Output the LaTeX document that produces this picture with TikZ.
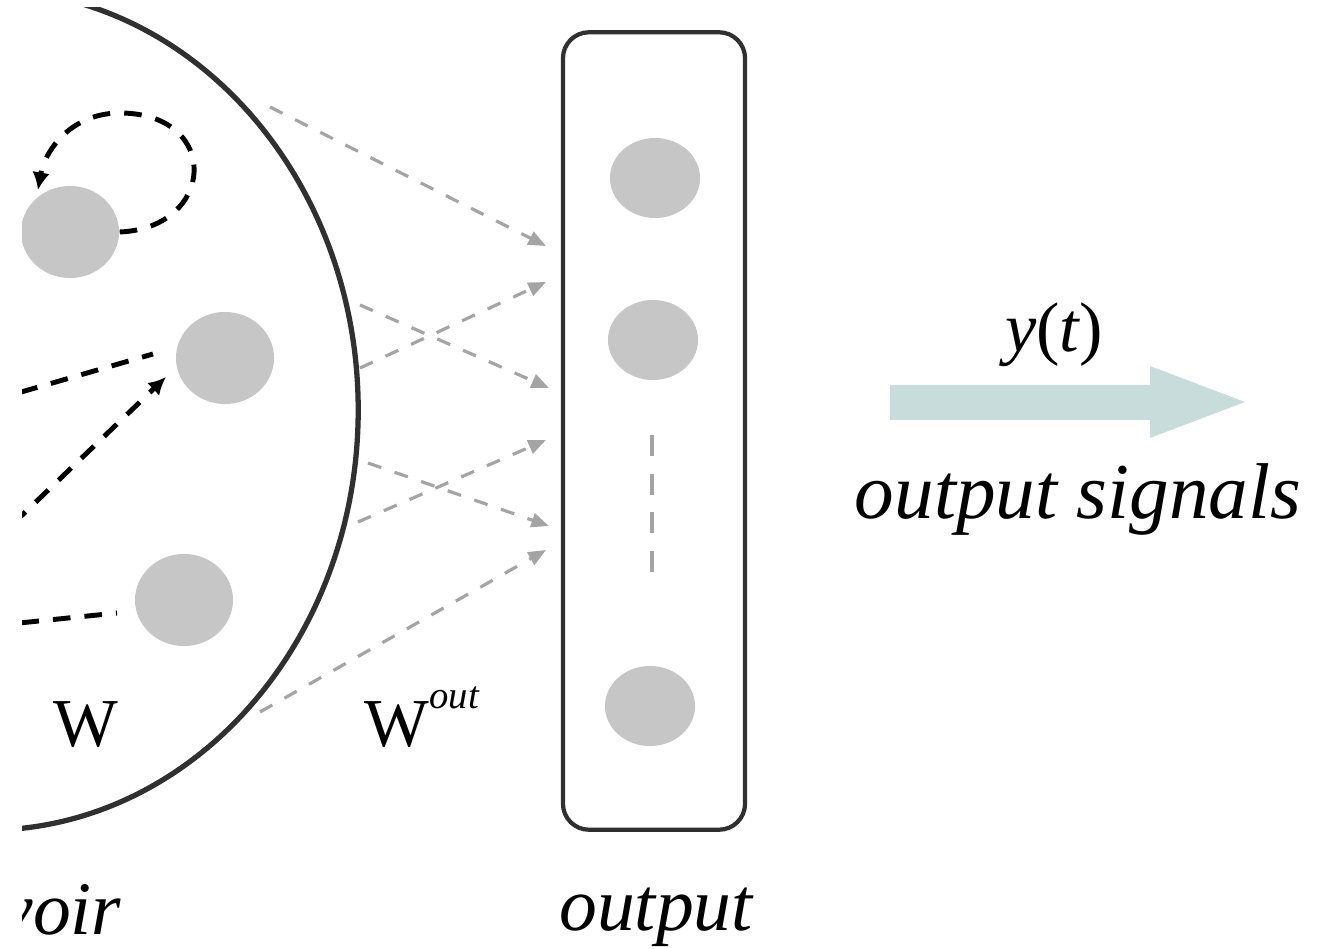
\documentclass[tikz,border=0pt]{standalone}
\usepackage{fontspec}
\setmainfont{Liberation Serif}
\usetikzlibrary{shapes.geometric,arrows.meta}
\definecolor{neurongray}{HTML}{C6C6C6}
\definecolor{linkgray}{HTML}{A4A4A4}
\definecolor{outarrow}{HTML}{C8DCDC}
\definecolor{rim}{HTML}{303030}
\tikzset{
  neuron/.style={ellipse, fill=neurongray, draw=none, inner sep=0pt, minimum width=0.98cm, minimum height=0.92cm},
  outneuron/.style={ellipse, fill=neurongray, draw=none, inner sep=0pt, minimum width=0.90cm, minimum height=0.80cm},
  resline/.style={draw=black, line width=1.4pt, dash pattern=on 5pt off 4pt},
  reslink/.style={resline, -{Latex[length=5pt,width=5pt]}},
  outlink/.style={draw=linkgray, line width=0.9pt, dash pattern=on 4pt off 4pt, -{Triangle[length=5pt,width=4pt]}},
  lbl/.style={inner sep=0pt, anchor=base}
}
\begin{document}
\begin{tikzpicture}[x=0.01cm,y=-0.01cm]
\useasboundingbox (0,0) rectangle (1330,949);
\begin{scope}
\clip (22,8) rectangle (1330,949);
% reservoir boundary
\draw[rim, line width=1.5pt] (-14,410) ellipse [x radius=3.72cm, y radius=4.2cm];
% reservoir neurons
\node[neuron] (r1) at (70,232) {};
\node[neuron] (r2) at (225,358) {};
\node[neuron] (r3) at (184,600) {};
% input connections (coming from outside)
\coordinate (i1) at (-10,401);
\coordinate (i1e) at (153,354);
\coordinate (i2) at (-10,546);
\coordinate (i2e) at (166,377);
\coordinate (i3) at (-10,626);
\coordinate (i3e) at (117,613);
\draw[resline] (i1) -- (i1e);
\draw[reslink] (i2) -- (i2e);
\draw[resline] (i3) -- (i3e);
% self loop
\draw[reslink] (r1.east) .. controls (215,228) and (222,115) .. (122,113)
   .. controls (72,112) and (45,150) .. (38,190);
% output box
\node[draw=rim, line width=1.2pt, rounded corners=0.26cm, minimum width=1.82cm, minimum height=7.97cm, inner sep=0pt] (ob) at (654,431) {};
\node[outneuron] (o1) at (655,178) {};
\node[outneuron] (o2) at (653,340) {};
\node[outneuron] (o3) at (650,706) {};
\coordinate (dtop) at (652,435);
\coordinate (dbot) at (652,588);
\draw[linkgray, line width=1.1pt, dash pattern=on 6pt off 5pt] (dtop) -- (dbot);
% output weights
\coordinate (sa) at (270,107);
\coordinate (ta) at (546,246);
\coordinate (sb) at (360,305);
\coordinate (tb) at (549,388);
\coordinate (sc) at (360,368);
\coordinate (tc) at (546,282);
\coordinate (sd) at (368,463);
\coordinate (td) at (549,526);
\coordinate (se) at (358,522);
\coordinate (te) at (546,440);
\coordinate (sf) at (260,712);
\coordinate (tf) at (546,550);
\draw[outlink] (sa) -- (ta);
\draw[outlink] (sb) -- (tb);
\draw[outlink] (sc) -- (tc);
\draw[outlink] (sd) -- (td);
\draw[outlink] (se) -- (te);
\draw[outlink] (sf) -- (tf);
% output signal arrow
\fill[outarrow] (890,385) -- (1150,385) -- (1150,366) -- (1245,402) -- (1150,438) -- (1150,420) -- (890,420) -- cycle;
% labels
\node[lbl] (wlab) at (86,746) {\fontsize{19.5}{20}\selectfont W};
\node[lbl, anchor=base west] (woutlab) at (364,746) {\fontsize{19.5}{20}\selectfont W\raisebox{0.55em}{\fontsize{11}{12}\selectfont\itshape out}};
\node[lbl] (ylab) at (1054,352) {\fontsize{20}{22}\selectfont\itshape y\upshape(\itshape t\upshape)};
\node[lbl] (sigl) at (1078,519) {\fontsize{22.5}{24}\selectfont\itshape output signals};
\node[lbl] (outl) at (656,930) {\fontsize{21.5}{24}\selectfont\itshape output};
\node[lbl, anchor=base east] (resl) at (122,934) {\fontsize{21.5}{24}\selectfont\itshape reservoir};
\end{scope}
\end{tikzpicture}
\end{document}
